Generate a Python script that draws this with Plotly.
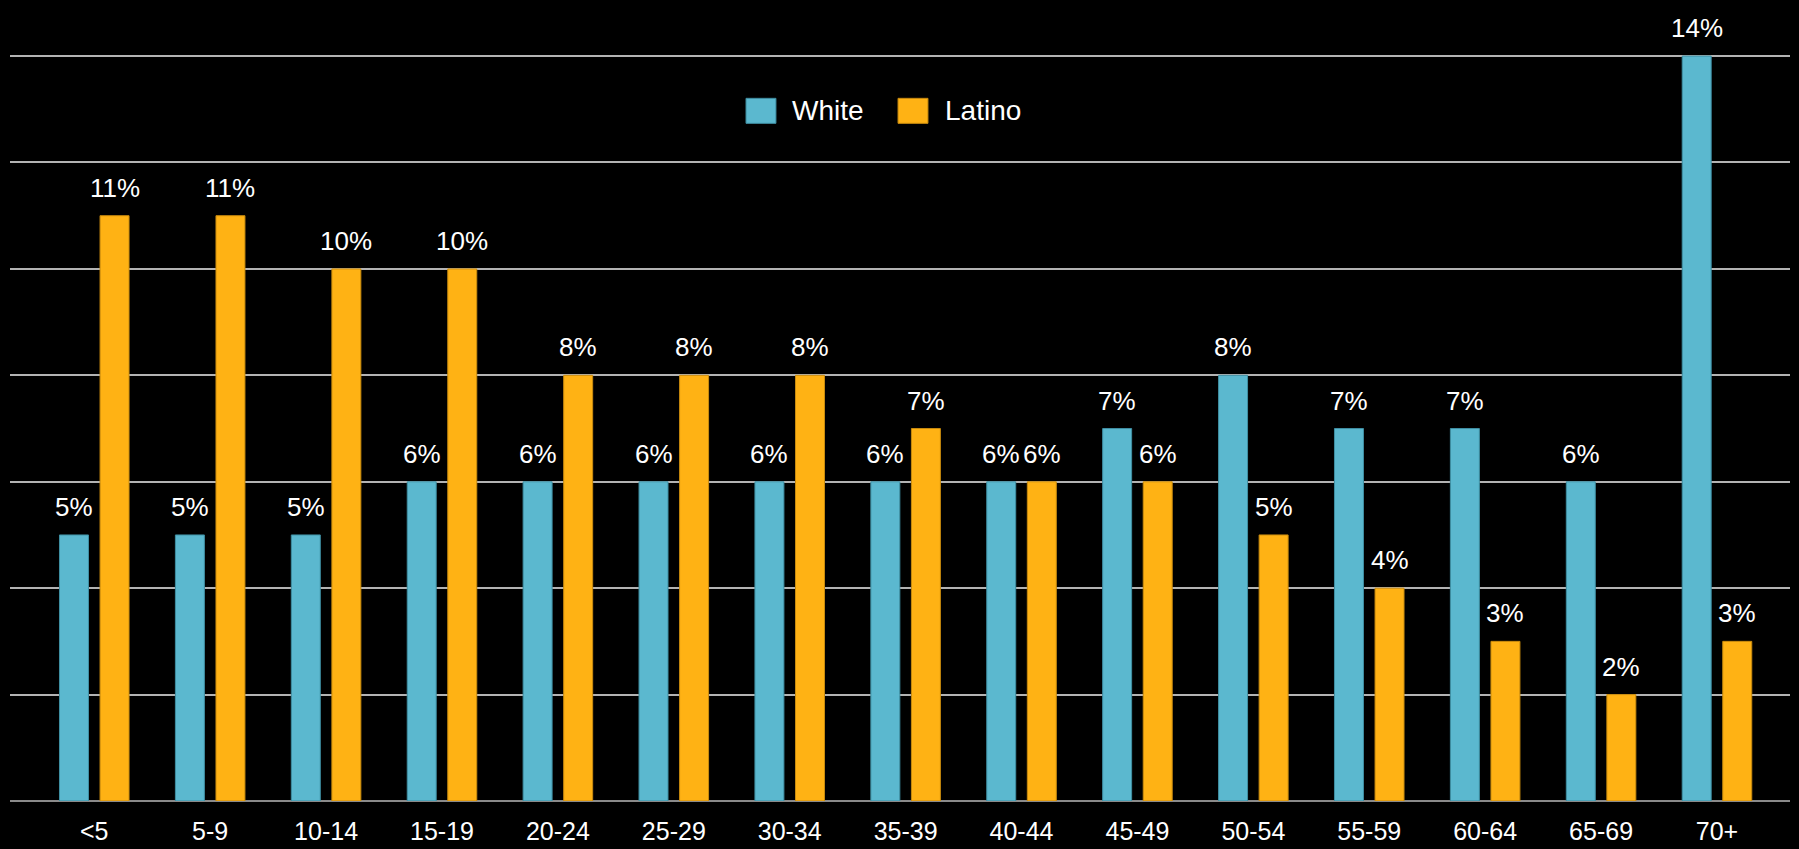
import plotly.graph_objects as go

categories = ["<5", "5-9", "10-14", "15-19", "20-24", "25-29", "30-34", "35-39",
              "40-44", "45-49", "50-54", "55-59", "60-64", "65-69", "70+"]
white = [5, 5, 5, 6, 6, 6, 6, 6, 6, 7, 8, 7, 7, 6, 14]
latino = [11, 11, 10, 10, 8, 8, 8, 7, 6, 6, 5, 4, 3, 2, 3]
y_ticks = [0, 2, 4, 6, 8, 10, 12, 14]
series_names = ["White", "Latino"]

FONT = "Liberation Sans, Arial, sans-serif"
WHITE_C = "#5BB8CF"
LATINO_C = "#FFB214"
WHITE_EDGE = "#3F8FA3"
LATINO_EDGE = "#C98B0E"

idx = list(range(len(categories)))

fig = go.Figure()
fig.add_trace(go.Bar(
    name=series_names[0], x=idx, y=white, width=0.25, offset=-0.3,
    marker=dict(color=WHITE_C, line=dict(color=WHITE_EDGE, width=1)),
))
fig.add_trace(go.Bar(
    name=series_names[1], x=idx, y=latino, width=0.25, offset=0.05,
    marker=dict(color=LATINO_C, line=dict(color=LATINO_EDGE, width=1)),
))

annotations = []
for vals, off in ((white, -0.175), (latino, 0.175)):
    for i, v in zip(idx, vals):
        annotations.append(dict(
            x=i + off, y=v, xref="x", yref="y", text=f"{v}%",
            showarrow=False, yanchor="bottom", yshift=11,
            font=dict(family=FONT, size=26, color="white"),
        ))

# custom legend (large swatches like the original)
shapes = []
legend_items = [
    (series_names[0], WHITE_C, WHITE_EDGE, 0.4135, 0.4382),
    (series_names[1], LATINO_C, LATINO_EDGE, 0.4989, 0.5242),
]
for name, col, edge, sx, tx in legend_items:
    shapes.append(dict(
        type="rect", xref="paper", yref="paper",
        x0=sx, x1=sx + 0.0168, y0=0.9084, y1=0.9419,
        fillcolor=col, line=dict(color=edge, width=1),
    ))
    annotations.append(dict(
        x=tx, y=0.926, xref="paper", yref="paper", text=name,
        showarrow=False, xanchor="left", yanchor="middle",
        font=dict(family=FONT, size=28, color="white"),
    ))

fig.update_layout(
    width=1799, height=849,
    paper_bgcolor="black", plot_bgcolor="black",
    margin=dict(l=10, r=9, t=55, b=48, autoexpand=False),
    font=dict(family=FONT, color="white"),
    showlegend=False,
    annotations=annotations,
    shapes=shapes,
)
fig.update_xaxes(
    range=[-0.727, 14.63], tickvals=idx, ticktext=categories,
    tickfont=dict(family=FONT, size=25, color="white"),
    showgrid=False, zeroline=False, showline=False, automargin=False,
    ticks="outside", ticklen=8, tickcolor="rgba(0,0,0,0)",
)
fig.update_yaxes(
    range=[0, 14.02], tickvals=y_ticks, showticklabels=False, automargin=False,
    showgrid=True, gridcolor="#B3B3B3", gridwidth=1.5,
    zeroline=True, zerolinecolor="#8A8A8A", zerolinewidth=2,
)

fig.write_html(
    "out.html",
    config={"displayModeBar": False},
    post_script="document.body.style.margin='0';document.body.style.background='black';",
)
